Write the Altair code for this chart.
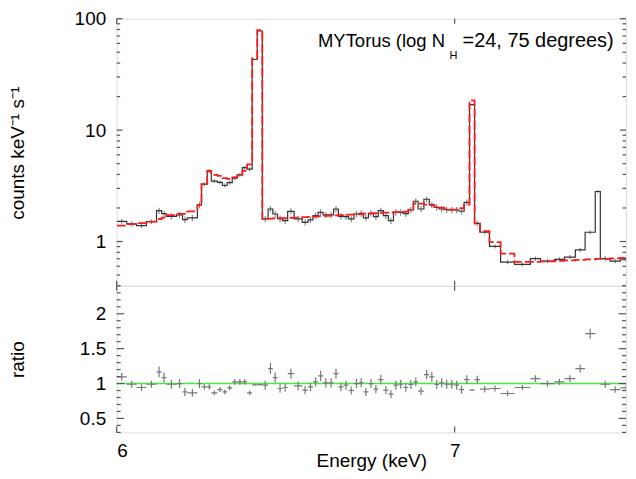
import altair as alt
import pandas as pd

# ---------------- data ----------------
EDGES = [6.000, 6.030, 6.059, 6.088, 6.118, 6.133, 6.147, 6.177, 6.195, 6.209,
         6.239, 6.251, 6.268, 6.280, 6.298, 6.313, 6.327, 6.342, 6.357, 6.372,
         6.386, 6.401, 6.416, 6.431, 6.448, 6.462, 6.476, 6.491, 6.506, 6.525,
         6.549, 6.566, 6.581, 6.596, 6.611, 6.627, 6.642, 6.656, 6.671, 6.686,
         6.702, 6.717, 6.730, 6.745, 6.760, 6.774, 6.789, 6.804, 6.819, 6.833,
         6.848, 6.863, 6.878, 6.892, 6.909, 6.925, 6.940, 6.954, 6.969, 6.984,
         6.999, 7.013, 7.028, 7.044, 7.059, 7.075, 7.103, 7.136, 7.177, 7.224,
         7.254, 7.295, 7.325, 7.357, 7.386, 7.416, 7.431, 7.460, 7.490, 7.525]

DATA = [1.518, 1.439, 1.389, 1.509, 1.891, 1.778, 1.682, 1.731, 1.572, 1.628,
        2.127, 3.275, 4.304, 3.483, 3.398, 3.182, 3.384, 3.705, 3.965, 4.608,
        4.459, 43.05, 77.6, 1.595, 1.959, 1.767, 1.605, 1.540, 1.865, 1.595,
        1.487, 1.562, 1.707, 1.826, 1.731, 1.731, 1.959, 1.682, 1.672, 1.595,
        1.767, 1.789, 1.628, 1.789, 1.672, 1.891, 1.707, 1.540, 1.826, 1.826,
        1.778, 1.919, 2.299, 1.959, 2.396, 2.140, 2.025, 1.959, 1.931, 1.919,
        1.919, 1.870, 2.243, 16.96, 1.457, 1.216, 0.906, 0.653, 0.623, 0.701,
        0.667, 0.691, 0.724, 0.843, 1.211, 2.813, 0.701, 0.667, 0.686]

MODEL = [1.389, 1.433, 1.463, 1.509, 1.588, 1.638, 1.724, 1.767, 1.767, 1.865,
         2.127, 3.275, 4.304, 3.965, 3.885, 3.705, 3.652, 3.766, 3.925, 4.304,
         4.920, 43.95, 78.9, 1.595, 1.605, 1.611, 1.618, 1.625, 1.631, 1.638,
         1.655, 1.662, 1.672, 1.689, 1.696, 1.707, 1.717, 1.724, 1.734, 1.743,
         1.753, 1.760, 1.778, 1.785, 1.796, 1.807, 1.815, 1.822, 1.833, 1.845,
         1.853, 1.931, 2.184, 2.184, 2.140, 2.118, 2.033, 2.011, 1.951, 1.931,
         1.931, 1.990, 2.140, 18.53, 1.447, 1.236, 0.986, 0.777, 0.656, 0.656,
         0.663, 0.670, 0.677, 0.684, 0.691, 0.698, 0.698, 0.705, 0.712]

RATIO = [1.095, 0.99, 0.943, 0.99, 1.167, 1.086, 0.99, 1.0, 0.88, 0.867,
         1.0, 0.952, 0.952, 0.867, 0.914, 0.88, 0.938, 1.024, 1.024, 1.024,
         0.867, 0.98, 0.985, 0.976, 1.214, 1.086, 0.929, 0.943, 1.143, 0.967,
         0.905, 0.952, 1.024, 1.11, 1.01, 1.01, 1.143, 0.952, 0.976, 0.9,
         1.0, 1.014, 0.88, 1.0, 0.919, 1.057, 0.905, 0.848, 0.976, 0.99,
         0.943, 0.986, 1.024, 0.89, 1.129, 1.095, 0.986, 1.01, 0.99, 0.99,
         0.976, 0.914, 1.057, 0.905, 1.057, 0.919, 0.929, 0.857, 0.943, 1.071,
         1.0, 1.024, 1.071, 1.214, 1.714, None, 0.99, 0.914, 0.938]

ERR = [0.05, 0.05, 0.05, 0.05, 0.065, 0.065, 0.065, 0.065, 0.065, 0.065,
       0.065, 0.04, 0.04, 0.04, 0.04, 0.04, 0.04, 0.04, 0.04, 0.04,
       0.04, 0.008, 0.008, 0.065, 0.065, 0.065, 0.065, 0.065, 0.065, 0.065,
       0.065, 0.065, 0.065, 0.065, 0.065, 0.065, 0.065, 0.065, 0.065, 0.065,
       0.065, 0.065, 0.065, 0.065, 0.065, 0.065, 0.065, 0.065, 0.065, 0.065,
       0.065, 0.065, 0.06, 0.065, 0.06, 0.065, 0.065, 0.065, 0.065, 0.065,
       0.065, 0.065, 0.06, 0.015, 0.05, 0.05, 0.045, 0.045, 0.04, 0.045,
       0.045, 0.045, 0.045, 0.045, 0.042, 0.03, 0.05, 0.05, 0.05]

TITLE_MAIN = "MYTorus (log N"
TITLE_SUB = "H"
TITLE_REST = "=24, 75 degrees)"
Y_TITLE_TOP = "counts keV\u207b\u00b9 s\u207b\u00b9"
Y_TITLE_BOTTOM = "ratio"
X_TITLE = "Energy (keV)"

X_TICKS = [6, 7]
X_DOMAIN = [6, 7.507]
TOP_DOMAIN = [0.4, 100]
RATIO_DOMAIN = [0.3, 2.4]
TOP_MAJOR = [1, 10, 100]
TOP_MINOR = [0.4, 0.5, 0.6, 0.7, 0.8, 0.9, 2, 3, 4, 5, 6, 7, 8, 9,
             20, 30, 40, 50, 60, 70, 80, 90]
RATIO_MAJOR = [0.5, 1, 1.5, 2]
RATIO_MINOR = [0.3, 0.4, 0.6, 0.7, 0.8, 0.9, 1.1, 1.2, 1.3, 1.4, 1.6, 1.7,
               1.8, 1.9, 2.1, 2.2, 2.3, 2.4]

# ---------------- layout / style ----------------
W = 511
H_TOP = 268
H_BOT = 147
FONT = "Liberation Sans"
FRAME = "#555555"

bins = pd.DataFrame({"lo": EDGES[:-1], "hi": EDGES[1:], "data": DATA,
                     "model": MODEL, "ratio": RATIO, "err": ERR})
steps = pd.DataFrame({"E": EDGES, "data": DATA + [DATA[-1]],
                      "model": MODEL + [MODEL[-1]]})

xs = alt.Scale(domain=X_DOMAIN, nice=False, zero=False)
ys_top = alt.Scale(type="log", domain=TOP_DOMAIN, nice=False)
ys_rat = alt.Scale(domain=RATIO_DOMAIN, nice=False, zero=False)

AX_TOP_Y = alt.Axis(values=TOP_MAJOR, format="d", ticks=False, domain=False,
                    grid=False, labelFontSize=19, labelFont=FONT,
                    labelColor="#000", labelPadding=11, title=None)
AX_RAT_Y = alt.Axis(values=RATIO_MAJOR, format="~g", ticks=False, domain=False,
                    grid=False, labelFontSize=19, labelFont=FONT,
                    labelColor="#000", labelPadding=11, title=None)
AX_X = alt.Axis(values=X_TICKS, format="d", ticks=False, domain=False, grid=False,
                labelFontSize=19, labelFont=FONT, labelColor="#000",
                labelPadding=9, title=X_TITLE, titleFont=FONT,
                titleFontSize=19, titleFontWeight="normal", titleColor="#000",
                titleY=34, titleBaseline="alphabetic")


def text_layer(txt, x, y, size, align="left", angle=0, baseline="alphabetic"):
    return alt.Chart(pd.DataFrame({"t": [txt]})).mark_text(
        align=align, baseline=baseline, font=FONT, fontSize=size,
        color="#000", angle=angle).encode(
        text="t:N", x=alt.value(x), y=alt.value(y))


def y_ticks(vals, scale, axis, x0, x1):
    return alt.Chart(pd.DataFrame({"v": vals})).mark_rule(
        color=FRAME, strokeWidth=1.2).encode(
        y=alt.Y("v:Q", scale=scale, axis=axis),
        x=alt.value(x0), x2=alt.value(x1))


def x_ticks(vals, axis, y0, y1):
    return alt.Chart(pd.DataFrame({"v": vals})).mark_rule(
        color=FRAME, strokeWidth=1.2).encode(
        x=alt.X("v:Q", scale=xs, axis=axis),
        y=alt.value(y0), y2=alt.value(y1))


# ---------------- top panel ----------------
top_err = alt.Chart(bins).transform_calculate(
    mid="(datum.lo + datum.hi) / 2",
    d1="datum.data * (1 - datum.err)",
    d2="datum.data * (1 + datum.err)").mark_rule(
    color="#888888", strokeWidth=1.2, clip=True).encode(
    x=alt.X("mid:Q", scale=xs, axis=None),
    y=alt.Y("d1:Q", scale=ys_top, axis=AX_TOP_Y), y2="d2:Q")

data_line = alt.Chart(steps).mark_line(
    interpolate="step-after", color="#333333", strokeWidth=1.2,
    clip=True).encode(
    x=alt.X("E:Q", scale=xs, axis=None),
    y=alt.Y("data:Q", scale=ys_top, axis=AX_TOP_Y))

model_line = alt.Chart(steps).mark_line(
    interpolate="step-after", color="#ff1a1a", strokeWidth=1.8,
    strokeDash=[9, 3], clip=True).encode(
    x=alt.X("E:Q", scale=xs, axis=None),
    y=alt.Y("model:Q", scale=ys_top, axis=AX_TOP_Y))

top = alt.layer(
    top_err, data_line, model_line,
    y_ticks(TOP_MAJOR, ys_top, AX_TOP_Y, 0, 6),
    y_ticks(TOP_MINOR, ys_top, AX_TOP_Y, 0, 3.5),
    y_ticks(TOP_MAJOR, ys_top, AX_TOP_Y, W - 6, W),
    y_ticks(TOP_MINOR, ys_top, AX_TOP_Y, W - 3.5, W),
    x_ticks(X_TICKS, None, 0, 5),
    x_ticks(X_TICKS, None, H_TOP - 5, H_TOP),
    text_layer(TITLE_MAIN, 202, 28, 18.5),
    text_layer(TITLE_SUB, 334, 40, 11),
    text_layer(TITLE_REST, 347, 28, 20),
    text_layer(Y_TITLE_TOP, -99, 135, 19, align="center", angle=270,
               baseline="middle"),
).properties(width=W, height=H_TOP)

# ---------------- ratio panel ----------------
unity = alt.Chart(pd.DataFrame({"v": [1]})).mark_rule(
    color="#3cf03c", strokeWidth=1.5).encode(
    y=alt.Y("v:Q", scale=ys_rat, axis=AX_RAT_Y))

rat_h = alt.Chart(bins).transform_filter("isValid(datum.ratio)").mark_rule(
    color="#777777", strokeWidth=1.2, clip=True).encode(
    x=alt.X("lo:Q", scale=xs, axis=AX_X), x2="hi:Q",
    y=alt.Y("ratio:Q", scale=ys_rat, axis=AX_RAT_Y))

rat_v = alt.Chart(bins).transform_filter("isValid(datum.ratio)").transform_calculate(
    mid="(datum.lo + datum.hi) / 2",
    r1="datum.ratio * (1 - datum.err)",
    r2="datum.ratio * (1 + datum.err)").mark_rule(
    color="#777777", strokeWidth=1.2, clip=True).encode(
    x=alt.X("mid:Q", scale=xs, axis=AX_X),
    y=alt.Y("r1:Q", scale=ys_rat, axis=AX_RAT_Y), y2="r2:Q")

bottom = alt.layer(
    unity, rat_h, rat_v,
    y_ticks(RATIO_MAJOR, ys_rat, AX_RAT_Y, 0, 7.5),
    y_ticks(RATIO_MINOR, ys_rat, AX_RAT_Y, 0, 4),
    y_ticks(RATIO_MAJOR, ys_rat, AX_RAT_Y, W - 7.5, W),
    y_ticks(RATIO_MINOR, ys_rat, AX_RAT_Y, W - 4, W),
    x_ticks(X_TICKS, AX_X, 0, 5),
    x_ticks(X_TICKS, AX_X, H_BOT - 6, H_BOT),
    text_layer(Y_TITLE_BOTTOM, -99, 74, 19, align="center", angle=270,
               baseline="middle"),
).properties(width=W, height=H_BOT)

chart = alt.vconcat(top, bottom, spacing=0, bounds="flush").properties(
    padding={"left": 0, "top": 0, "right": 0, "bottom": 0},
    background="white",
).configure_view(stroke=FRAME, strokeWidth=1.5).configure(font=FONT)

chart.save("out.html", embed_options={"renderer": "svg", "actions": False})
